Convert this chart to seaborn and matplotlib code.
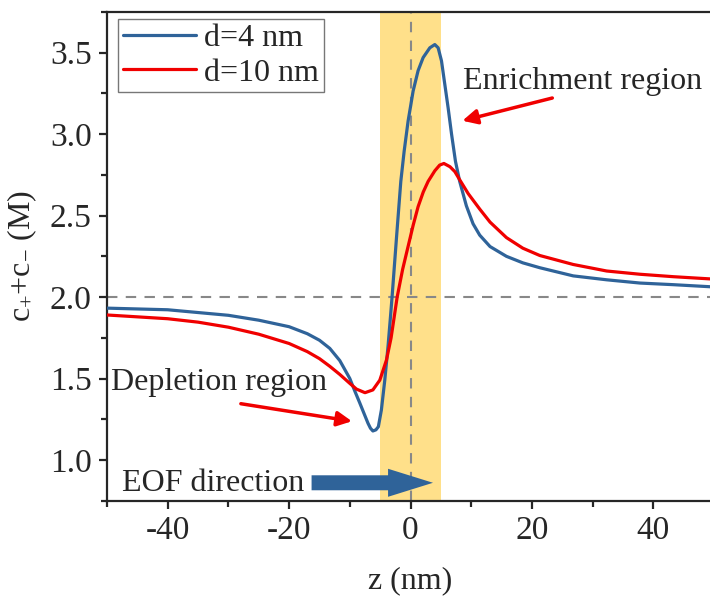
import numpy as np
import pandas as pd
import matplotlib
matplotlib.use("Agg")
import matplotlib.pyplot as plt
from matplotlib.ticker import MultipleLocator
import seaborn as sns

# d = 4 nm
z_d4 = [-50, -40, -35, -30, -25, -20, -17, -15, -13.3, -11.65, -10.0, -9.2, -8.36, -7.6,
        -7.0, -6.6, -6.2, -5.7, -5.3, -4.8, -4.24, -3.7, -3.3, -3.0, -2.6, -2.3, -1.6,
        -1.05, -0.4, 0.43, 1.25, 2.08, 3.18, 4.0, 4.55, 5.1, 5.65, 6.2, 6.76, 7.4, 8.1,
        9.2, 10.3, 11.4, 13.1, 15.8, 18.5, 21.3, 26.8, 32.3, 37.8, 43.3, 50]
c_d4 = [1.932, 1.922, 1.905, 1.888, 1.858, 1.818, 1.775, 1.735, 1.685, 1.61, 1.50, 1.425, 1.35, 1.28,
        1.225, 1.195, 1.178, 1.185, 1.204, 1.307, 1.49, 1.70, 1.88, 2.02, 2.22, 2.37, 2.71,
        2.895, 3.08, 3.265, 3.39, 3.47, 3.53, 3.55, 3.53, 3.45, 3.305, 3.16, 3.0, 2.834, 2.71,
        2.56, 2.45, 2.38, 2.31, 2.25, 2.21, 2.18, 2.13, 2.106, 2.086, 2.076, 2.062]

# d = 10 nm
z_d10 = [-50, -40, -35, -30, -25, -20, -17, -15, -13.3, -11.65, -10.0, -8.9, -7.5, -6.2,
         -5.06, -3.96, -3.2, -2.2, -1.3, -0.66, 0.43, 1.25, 2.1, 2.9, 4.0, 4.8, 5.5, 6.5,
         7.3, 8.1, 9.5, 11.4, 13.1, 15.8, 18.5, 21.3, 26.8, 32.3, 37.8, 43.3, 50]
c_d10 = [1.89, 1.867, 1.846, 1.815, 1.772, 1.715, 1.665, 1.622, 1.575, 1.525, 1.47, 1.435, 1.413, 1.43,
         1.49, 1.614, 1.75, 2.0, 2.17, 2.27, 2.44, 2.555, 2.645, 2.71, 2.775, 2.81, 2.82, 2.80,
         2.77, 2.72, 2.635, 2.54, 2.46, 2.365, 2.30, 2.255, 2.20, 2.16, 2.14, 2.125, 2.11]

labels = ["d=4 nm", "d=10 nm"]
bulk = 2.0
band = (-5, 5)

df = pd.concat([
    pd.DataFrame({"z": z_d4, "c": c_d4, "case": labels[0]}),
    pd.DataFrame({"z": z_d10, "c": c_d10, "case": labels[1]}),
])

sns.set_style("ticks")
plt.rcParams["font.family"] = ["Liberation Serif", "DejaVu Serif"]
plt.rcParams["mathtext.fontset"] = "custom"
plt.rcParams["mathtext.rm"] = "Liberation Serif"
plt.rcParams["mathtext.it"] = "Liberation Serif:italic"
plt.rcParams["axes.unicode_minus"] = False
plt.rcParams["xtick.direction"] = "out"
plt.rcParams["ytick.direction"] = "out"

blue = "#2F6399"
red = "#F00000"
fs = 23

fig = plt.figure(figsize=(7.1, 5.98), dpi=100)
ax = fig.add_axes([0.1507, 0.1627, 0.855, 0.8173])

ax.axvspan(band[0], band[1], color="#FFE08A", lw=0, zorder=0)
ax.axhline(bulk, color="#888888", ls=(0, (5, 4)), lw=1.5, zorder=1)
ax.axvline(0, color="#888888", ls=(0, (5, 4)), lw=1.5, zorder=1)

sns.lineplot(data=df, x="z", y="c", hue="case", palette=[blue, red],
             sort=False, lw=2.3, ax=ax, zorder=3)
for ln in ax.get_lines():
    ln.set_solid_joinstyle("round")

ax.set_xlim(-50, 50)
ax.set_ylim(0.75, 3.75)
ax.xaxis.set_major_locator(MultipleLocator(20))
ax.xaxis.set_minor_locator(MultipleLocator(10))
ax.yaxis.set_major_locator(MultipleLocator(0.5))
ax.yaxis.set_minor_locator(MultipleLocator(0.25))
ax.tick_params(which="major", length=6, width=1.6, labelsize=24, pad=5)
ax.tick_params(which="minor", length=4, width=1.6)
for s in ["left", "bottom", "top"]:
    ax.spines[s].set_linewidth(1.6)
ax.spines["right"].set_visible(False)

ax.set_xlabel("z (nm)", fontsize=fs, labelpad=14)
ax.set_ylabel(r"c$_{\mathregular{+}}$+c$_{\mathregular{-}}$ (M)", fontsize=fs, labelpad=8)

leg = ax.legend(loc="upper left", bbox_to_anchor=(0.018, 0.985), fontsize=fs,
                frameon=True, fancybox=False, edgecolor="#555555",
                handlelength=2.3, borderaxespad=0.0, borderpad=0.15,
                labelspacing=0.15, handletextpad=0.25, title=None)
leg.get_frame().set_linewidth(1.0)
for h in leg.get_lines():
    h.set_linewidth(2.3)

# annotations
ax.text(8.6, 3.325, "Enrichment region", fontsize=fs, va="center", ha="left")
ax.annotate("", xy=(8.1, 3.078), xytext=(23.8, 3.226),
            arrowprops=dict(arrowstyle="-|>", color=red, lw=2.5, mutation_scale=22))
ax.text(-49.3, 1.473, "Depletion region", fontsize=fs, va="center", ha="left")
ax.annotate("", xy=(-9.2, 1.235), xytext=(-28.4, 1.348),
            arrowprops=dict(arrowstyle="-|>", color=red, lw=2.5, mutation_scale=22))
ax.text(-47.6, 0.858, "EOF direction", fontsize=fs, va="center", ha="left")
ax.arrow(-16.3, 0.86, 20.0, 0, width=0.092, head_width=0.172, head_length=7.4,
         length_includes_head=True, color=blue, lw=0, zorder=4)

fig.savefig("out.png", dpi=100)
